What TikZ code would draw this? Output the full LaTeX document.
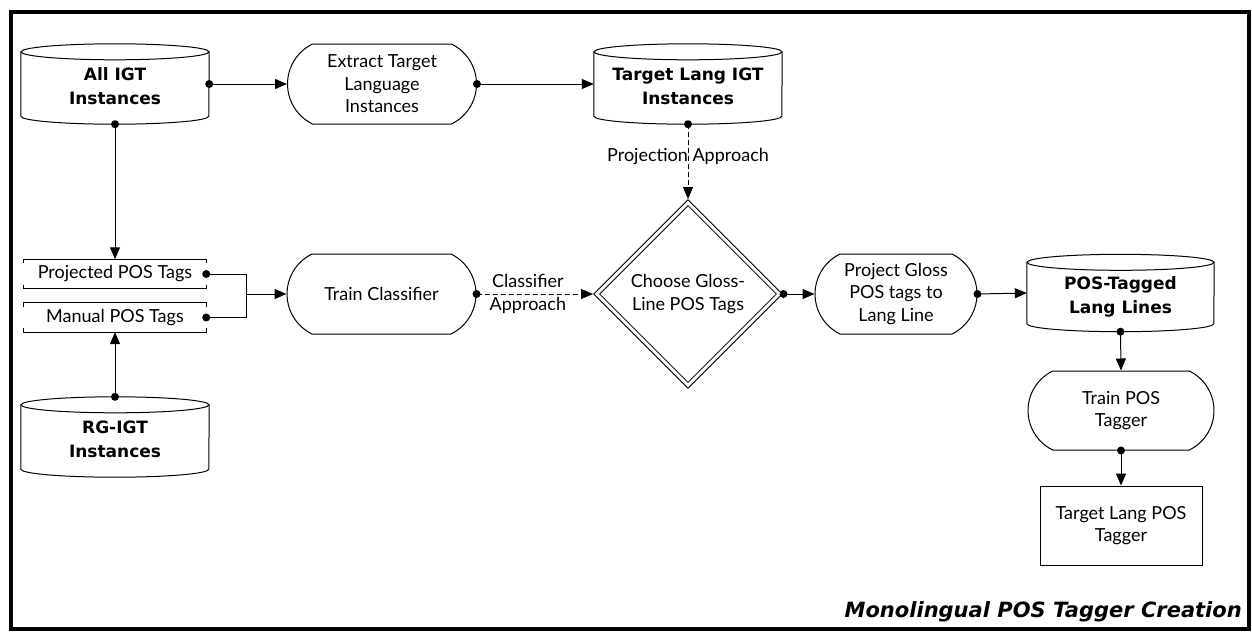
\documentclass[tikz,border=0pt]{standalone}
\usepackage{fontspec}
\setmainfont{Lato}
\newfontfamily\heavyfont{DejaVu Sans}
\usetikzlibrary{shapes.geometric,shapes.misc,arrows.meta,calc}

% text lowered a little inside the cylinders, box size kept
\newcommand\dbtext[1]{\raisebox{-4pt}[\height][\depth]{\begin{tabular}{@{}c@{}}#1\end{tabular}}}

\tikzset{
  plain/.style={font={\fontsize{18}{22.5}\selectfont}, align=center},
  proc/.style={plain, rounded rectangle, rounded rectangle arc length=128, draw,
    line width=1pt, minimum height=80pt, inner sep=0pt},
  dbnode/.style={font={\heavyfont\fontsize{17}{23.5}\selectfont\bfseries}, align=center,
    minimum width=188pt, minimum height=80pt, inner sep=0pt},
  tagstore/.style={plain, minimum width=182pt, minimum height=29pt, inner sep=0pt},
  boxnode/.style={plain, draw, line width=1pt, minimum width=162pt, minimum height=79pt, inner sep=0pt},
  decision/.style={plain, diamond, draw, double, double distance=3pt, line width=1pt,
    minimum width=183pt, minimum height=183pt, inner sep=0pt},
  flow/.style={line width=1pt, -{Triangle[length=12pt,width=10pt]}},
  dashflow/.style={flow, dash pattern=on 5pt off 3pt},
  link/.style={line width=1pt},
  shapeline/.style={line width=1pt},
  lbl/.style={plain},
}

% database cylinder drawn around a named node
\newcommand\cylinderdb[2]{% node name, half width
  \draw[shapeline] ($(#1.north)+(0,8)$) ellipse [x radius=#2pt, y radius=8pt];
  \draw[shapeline] ($(#1.north west)+(0,8)$) -- ($(#1.south west)+(0,-8)$)
    arc [start angle=180, end angle=360, x radius=#2pt, y radius=8pt]
    -- ($(#1.north east)+(0,8)$);
}
% open data store: top and bottom rules with end ticks
\newcommand\storelines[1]{%
  \draw[shapeline] ($(#1.north west)+(0,4)$) -- (#1.north west) -- (#1.north east) -- ++(0,4);
  \draw[shapeline] ($(#1.south west)+(0,-4)$) -- (#1.south west) -- (#1.south east) -- ++(0,-4);
}
\newcommand\startdot[1]{\fill (#1) circle [radius=4pt];}

\begin{document}
\begin{tikzpicture}[x=1pt, y=-1pt]
  \useasboundingbox (0,0) rectangle (1252,633);
  \draw[line width=4pt] (10.5,11.5) rectangle (1249,628.5);

  % stores
  \node[dbnode] (all) at (115,84) {\dbtext{All IGT\\Instances}};
  \node[dbnode] (tgt) at (688,84) {\dbtext{Target Lang IGT\\Instances}};
  \node[dbnode] (rg) at (115,437) {\dbtext{RG-IGT\\Instances}};
  \node[dbnode, minimum width=187pt, minimum height=77pt] (tagged) at (1120.5,293) {\dbtext{POS-Tagged\\Lang Lines}};
  \cylinderdb{all}{94}
  \cylinderdb{tgt}{94}
  \cylinderdb{rg}{94}
  \cylinderdb{tagged}{93.5}

  % processes
  \node[proc, minimum width=189pt] (extract) at (382,84) {Extract Target\\Language\\Instances};
  \node[proc, minimum width=189pt] (train) at (381.5,294) {Train Classifier};
  \node[proc, minimum width=162pt] (pgloss) at (896,294) {Project Gloss\\POS tags to\\Lang Line};
  \node[proc, minimum width=186pt, minimum height=79pt] (trainpos) at (1121,410.5) {Train POS\\Tagger};
  \node[boxnode] (tagger) at (1121,525.5) {Target Lang POS\\Tagger};

  % tag sets
  \node[tagstore] (proj) at (115,274) {Projected POS Tags};
  \node[tagstore] (man) at (115,317.5) {Manual POS Tags};
  \storelines{proj}
  \storelines{man}

  % decision
  \node[decision] (choose) at (688,294) {Choose Gloss-\\Line POS Tags};

  % connectors
  \draw[flow] (all.east) -- (extract.west);
  \startdot{all.east}
  \draw[flow] (extract.east) -- (tgt.west);
  \startdot{extract.east}
  \draw[dashflow, shorten >=3pt] (tgt.south) -- node[lbl, pos=0.42] {Projection Approach} (choose.north);
  \startdot{tgt.south}
  \draw[flow] (all.south) -- (proj.north);
  \startdot{all.south}
  \draw[flow] (rg.north) -- (man.south);
  \startdot{rg.north}

  \coordinate (join) at (246,294);
  \draw[link] (proj.east) -| (join);
  \draw[link] (man.east) -| (join);
  \startdot{proj.east}
  \startdot{man.east}
  \draw[flow] (join) -- (train.west);

  \draw[dashflow, shorten >=3pt] (train.east) -- node[lbl, pos=0.43] {Classifier\\Approach} (choose.west);
  \startdot{train.east}
  \coordinate (chooseout) at ([xshift=3.5pt]choose.east);
  \draw[flow] (chooseout) -- (pgloss.west);
  \startdot{chooseout}
  \draw[flow] (pgloss.east) -- (tagged.west);
  \startdot{pgloss.east}
  \draw[flow] (tagged.south) -- (trainpos.north);
  \startdot{tagged.south}
  \draw[flow] (trainpos.south) -- (tagger.north);
  \startdot{trainpos.south}

  % caption
  \node[font={\heavyfont\fontsize{21}{25}\selectfont\bfseries\itshape}, anchor=base east, inner sep=0pt] (caption) at (1242,617) {Monolingual POS Tagger Creation};
\end{tikzpicture}
\end{document}
